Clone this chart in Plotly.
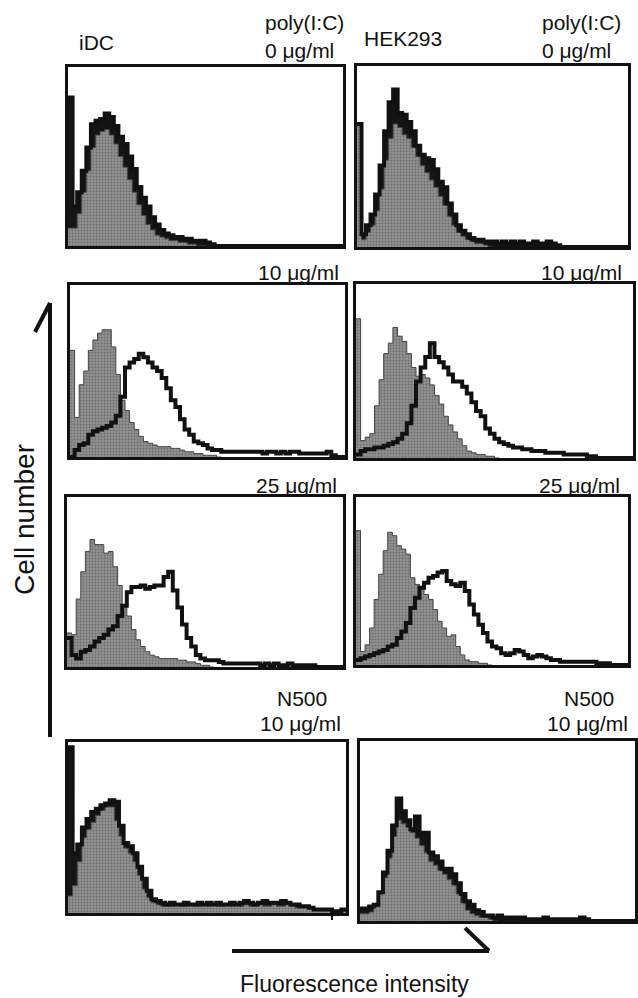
import plotly.graph_objects as go

# ---------------- data: histogram counts per channel bin (% of panel height) ----------------
# grey = control (filled), black = poly(I:C)/N500 stained sample (thick outline)
idc_0_ctrl = [10, 10, 18, 30, 42, 55, 62, 64, 65, 62, 57, 50, 44, 37, 30, 23, 17, 12, 9, 6,
              5, 4, 3, 3, 2, 2, 1, 1, 0, 0]
idc_0_stain = [83, 22, 30, 42, 55, 68, 70, 71, 74, 72, 67, 61, 57, 50, 43, 33, 27, 22, 16, 12,
               9, 7, 6, 5, 5, 4, 4, 3, 3, 3, 2, 1, 0, 0, 0, 0, 0, 0, 0, 0,
               0, 0, 0, 0, 0, 0, 0, 0, 0, 0, 0, 0, 0, 0, 0, 0, 0, 0, 0, 0]

hek_0_ctrl = [68, 4, 8, 12, 20, 32, 48, 60, 68, 66, 62, 60, 55, 50, 45, 41, 37, 33, 28, 23,
              17, 12, 8, 6, 4, 3, 2, 2, 1, 0]
hek_0_stain = [68, 7, 12, 18, 29, 45, 64, 80, 87, 74, 73, 69, 64, 56, 51, 49, 48, 43, 36, 33,
               24, 18, 12, 9, 7, 5, 4, 4, 3, 3, 3, 2, 3, 2, 3, 2, 3, 2, 2, 3,
               2, 2, 3, 2, 1, 0, 0, 0, 0, 0, 0, 0, 0, 0, 0, 0, 0, 0, 0, 0]

idc_10_ctrl = [62, 23, 42, 50, 62, 68, 72, 74, 74, 64, 48, 33, 27, 20, 16, 12, 9, 8, 7, 6,
               6, 6, 5, 5, 4, 3, 3, 2, 2, 1, 1, 1, 0]
idc_10_stain = [0, 4, 7, 8, 13, 15, 16, 17, 18, 20, 24, 35, 52, 55, 57, 60, 58, 55, 52, 50,
                46, 40, 33, 29, 22, 16, 13, 9, 8, 7, 5, 4, 4, 3, 3, 3, 3, 3, 3, 3,
                3, 3, 2, 3, 3, 2, 3, 2, 3, 3, 2, 2, 2, 2, 2, 2, 3, 1, 0, 0]

hek_10_ctrl = [80, 10, 12, 14, 30, 45, 60, 66, 75, 70, 67, 60, 52, 47, 48, 46, 42, 36, 31, 24,
               19, 15, 11, 7, 4, 3, 2, 2, 1, 1, 0]
hek_10_stain = [2, 4, 5, 5, 6, 6, 7, 8, 9, 11, 14, 20, 30, 44, 52, 58, 66, 58, 55, 52,
                48, 44, 44, 41, 37, 32, 27, 24, 17, 14, 11, 9, 8, 7, 6, 6, 5, 5, 4, 4,
                4, 3, 3, 3, 3, 2, 2, 2, 2, 2, 1, 1, 0, 0, 0, 0, 0, 0, 0, 0]

idc_25_ctrl = [20, 19, 40, 56, 68, 75, 72, 72, 67, 68, 59, 48, 36, 30, 22, 16, 12, 9, 7, 6,
               5, 5, 5, 5, 4, 4, 3, 3, 2, 1, 1, 0]
idc_25_stain = [17, 7, 5, 9, 10, 12, 15, 17, 19, 22, 24, 30, 36, 44, 47, 47, 48, 46, 47, 48,
                48, 53, 56, 45, 35, 25, 17, 12, 7, 5, 4, 4, 4, 3, 2, 2, 2, 2, 2, 2,
                2, 2, 1, 2, 1, 2, 1, 1, 2, 1, 1, 1, 1, 1, 0, 0, 0, 0, 0, 0]

hek_25_ctrl = [80, 8, 12, 22, 39, 54, 68, 79, 77, 71, 69, 66, 52, 48, 45, 42, 39, 33, 26, 22,
               17, 18, 11, 6, 3, 2, 2, 1, 1, 0]
hek_25_stain = [3, 4, 5, 6, 7, 8, 9, 11, 12, 16, 20, 25, 34, 40, 46, 49, 52, 53, 55, 56,
                50, 48, 47, 49, 44, 36, 30, 24, 19, 14, 11, 10, 7, 6, 7, 9, 8, 6, 4, 5,
                6, 5, 4, 3, 3, 2, 2, 2, 2, 2, 2, 2, 2, 1, 1, 1, 0, 0, 0, 0]

idc_n500_ctrl = [10, 16, 30, 44, 49, 53, 57, 60, 62, 62, 54, 45, 38, 35, 30, 22, 14, 9, 6, 5,
                 4, 4, 4, 5, 4, 4, 5, 4, 4, 5, 4, 5, 4, 4, 5, 4, 5, 4, 5, 4,
                 4, 5, 4, 4, 5, 4, 4, 5, 4, 3, 3, 3, 3, 2, 2, 2, 2, 1, 1, 1]
idc_n500_stain = [97, 35, 40, 50, 55, 59, 61, 63, 64, 66, 65, 51, 41, 39, 35, 27, 20, 13, 8, 7,
                  6, 5, 6, 5, 5, 6, 5, 5, 6, 5, 6, 5, 6, 5, 5, 6, 5, 6, 7, 6,
                  5, 6, 7, 6, 6, 6, 7, 6, 5, 5, 4, 4, 3, 2, 2, 2, 2, 1, 1, 2]

hek_n500_ctrl = [4, 4, 5, 8, 15, 24, 35, 47, 56, 54, 52, 49, 46, 42, 38, 33, 31, 28, 26, 23,
                 20, 15, 10, 6, 4, 3, 2, 2, 1, 0]
hek_n500_stain = [7, 7, 8, 9, 16, 27, 39, 53, 68, 61, 56, 51, 58, 49, 49, 38, 36, 33, 29, 29,
                  26, 21, 15, 11, 9, 6, 5, 3, 3, 2, 3, 2, 2, 2, 2, 2, 1, 1, 1, 1,
                  2, 1, 1, 1, 1, 1, 1, 1, 2, 1, 0, 0, 0, 0, 0, 0, 0, 0, 0, 0]

N_CHANNELS = 60

# ---------------- layout (pixel boxes of each panel; overlap => stained curve hugs control) ----------------
W, H = 638, 998
panels = [
    (idc_0_ctrl, idc_0_stain, (68, 343, 67, 246), True),
    (hek_0_ctrl, hek_0_stain, (357, 628, 66, 247), True),
    (idc_10_ctrl, idc_10_stain, (70, 345, 285, 457), False),
    (hek_10_ctrl, hek_10_stain, (356, 633, 284, 458), False),
    (idc_25_ctrl, idc_25_stain, (67, 343, 497, 667), False),
    (hek_25_ctrl, hek_25_stain, (356, 628, 497, 665), False),
    (idc_n500_ctrl, idc_n500_stain, (68, 346, 742, 913), True),
    (hek_n500_ctrl, hek_n500_stain, (360, 635, 741, 921), True),
]

FONT = "Liberation Sans, Arial, Helvetica, sans-serif"


def px(x):
    return x / W


def py(y):
    return 1 - y / H


def step(values):
    xs = list(range(len(values) + 1))
    ys = list(values) + [values[-1]]
    return xs, ys


fig = go.Figure()
layout_axes = {}
for i, (ctrl, stain, (x0, x1, y0, y1), band) in enumerate(panels):
    k = "" if i == 0 else str(i + 1)
    xa, ya = "x" + k, "y" + k
    cx, cy = step(ctrl)
    fig.add_trace(go.Scatter(
        x=cx, y=cy, xaxis=xa, yaxis=ya, mode="lines", line_shape="hv",
        line=dict(color="#444444", width=1), fill="tozeroy",
        fillcolor="#868686",
        fillpattern=dict(shape=".", bgcolor="#929292", fgcolor="#4a4a4a",
                         size=3, solidity=0.35),
        hoverinfo="skip"))
    sx, sy = step(stain)
    extra = dict(fill="tonexty", fillcolor="#151515") if band else {}
    fig.add_trace(go.Scatter(
        x=sx, y=sy, xaxis=xa, yaxis=ya, mode="lines", line_shape="hv",
        line=dict(color="#111111", width=4), hoverinfo="skip", **extra))
    axstyle = dict(showline=True, mirror=True, linecolor="#111111", linewidth=2.5,
                   showgrid=False, zeroline=False, showticklabels=False, ticks="",
                   fixedrange=True)
    layout_axes["xaxis" + k] = dict(domain=[px(x0), px(x1)], range=[0, N_CHANNELS],
                                   anchor=ya, **axstyle)
    layout_axes["yaxis" + k] = dict(domain=[py(y1), py(y0)], range=[0, 100],
                                   anchor=xa, **axstyle)

fig.update_layout(**layout_axes)

labels = [
    ("iDC", 77, 43, "left"),
    ("poly(I:C)", 263, 22, "left"),
    ("0 μg/ml", 263, 50, "left"),
    ("HEK293", 362, 38, "left"),
    ("poly(I:C)", 540, 22, "left"),
    ("0 μg/ml", 540, 50, "left"),
    ("10 μg/ml", 341, 272, "right"),
    ("10 μg/ml", 624, 272, "right"),
    ("25 μg/ml", 339, 485, "right"),
    ("25 μg/ml", 622, 485, "right"),
    ("N500", 302, 698, "center"),
    ("N500", 589, 698, "center"),
    ("10 μg/ml", 300, 723, "center"),
    ("10 μg/ml", 587, 723, "center"),
]
annotations = [dict(text=t, x=px(x), y=py(y), xref="paper", yref="paper",
                    xanchor=a, yanchor="middle", showarrow=False,
                    font=dict(family=FONT, size=21, color="#111111"))
               for t, x, y, a in labels]
annotations.append(dict(text="Fluorescence intensity", x=px(354), y=py(984), xref="paper",
                        yref="paper", xanchor="center", yanchor="middle", showarrow=False,
                        font=dict(family=FONT, size=23, color="#111111")))
annotations.append(dict(text="Cell number", x=px(24), y=py(520), xref="paper", yref="paper",
                        xanchor="center", yanchor="middle", showarrow=False, textangle=-90,
                        font=dict(family=FONT, size=28, color="#111111")))

line_style = dict(color="#111111", width=4)
shapes = [
    dict(type="line", xref="paper", yref="paper", x0=px(50), y0=py(303), x1=px(50), y1=py(737), line=line_style),
    dict(type="line", xref="paper", yref="paper", x0=px(50), y0=py(303), x1=px(35), y1=py(332), line=line_style),
    dict(type="line", xref="paper", yref="paper", x0=px(232), y0=py(951), x1=px(489), y1=py(951), line=line_style),
    dict(type="line", xref="paper", yref="paper", x0=px(489), y0=py(951), x1=px(465), y1=py(928), line=line_style),
    dict(type="line", xref="paper", yref="paper", x0=px(332), y0=py(912), x1=px(332), y1=py(920),
         line=dict(color="#111111", width=2)),
]

fig.update_layout(
    width=W, height=H, margin=dict(l=0, r=0, t=0, b=0),
    paper_bgcolor="white", plot_bgcolor="white", showlegend=False,
    annotations=annotations, shapes=shapes,
    font=dict(family=FONT),
)

fig.write_html(
    "out.html",
    config={"displayModeBar": False},
    post_script="document.body.style.margin='0';document.body.style.overflow='hidden';"
                "document.documentElement.style.overflow='hidden';",
)
